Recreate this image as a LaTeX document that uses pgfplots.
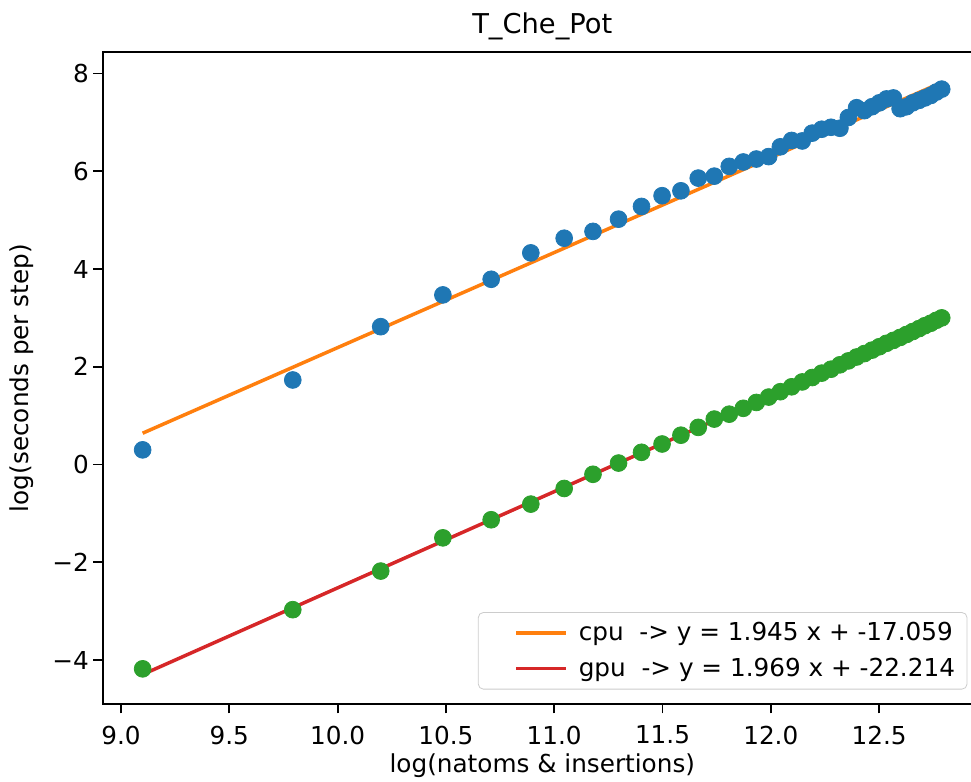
\documentclass[border=0pt]{standalone}
\usepackage{pgfplots}
\pgfplotsset{compat=1.18}
\usepackage{fontspec}
\setmainfont{DejaVu Sans}
\definecolor{mplblue}{HTML}{1F77B4}
\definecolor{mplorange}{HTML}{FF7F0E}
\definecolor{mplgreen}{HTML}{2CA02C}
\definecolor{mplred}{HTML}{D62728}
\begin{document}
\begin{tikzpicture}
\begin{axis}[
  name=ax,
  scale only axis,
  width=439.6bp, height=326bp,
  xmin=8.9155, xmax=12.9745,
  ymin=-4.90, ymax=8.44,
  axis line style={line width=0.9bp},
  tick style={line width=0.9bp, black},
  tick align=outside,
  major tick length=4.7bp,
  tick pos=left,
  xtick={9.0,9.5,10.0,10.5,11.0,11.5,12.0,12.5},
  xticklabels={9.0,9.5,10.0,10.5,11.0,11.5,12.0,12.5},
  ytick={-4,-2,0,2,4,6,8},
  yticklabels={−4,−2,0,2,4,6,8},
  ticklabel style={font=\fontsize{12.4}{15}\selectfont},
  xticklabel style={inner sep=0pt, anchor=north, yshift=-6bp},
  yticklabel style={inner sep=0pt, anchor=east, xshift=-2bp},
  title={T\_Che\_Pot},
  title style={font=\fontsize{13.7}{16}\selectfont, at={(axis description cs:0.5,1)}, anchor=south, inner sep=0pt, yshift=0bp},
  xlabel={log(natoms \& insertions)},
  ylabel={log(seconds per step)},
  label style={font=\fontsize{12.4}{15}\selectfont},
  xlabel style={at={(axis description cs:0.5,0)}, anchor=center, yshift=-31bp},
  ylabel style={at={(axis description cs:-0.0918,0.5)}, anchor=center},
  legend cell align=left,
  legend style={at={(axis description cs:1,0)}, anchor=south east, xshift=-7.25bp, yshift=7.25bp,
    draw=black!20, rounded corners=2.5bp, fill=white, fill opacity=0.8, text opacity=1,
    font=\fontsize{12.4}{15}\selectfont, inner xsep=4bp, inner ysep=3bp, row sep=3bp},
  legend image code/.code={\path (-14bp,0bp) (28.5bp,0bp); \draw[mark=none,#1] (0bp,0bp) -- (25bp,0bp);},
]
% cpu scatter
\addplot[only marks, mark=*, mark size=4.2bp, mplblue, mark options={draw=mplblue, fill=mplblue}, forget plot] table {
x y
9.100 0.30
9.793 1.73
10.199 2.82
10.486 3.47
10.709 3.79
10.892 4.33
11.046 4.63
11.179 4.77
11.297 5.02
11.403 5.28
11.498 5.50
11.585 5.60
11.665 5.86
11.739 5.90
11.808 6.10
11.873 6.19
11.933 6.25
11.990 6.30
12.044 6.50
12.096 6.63
12.145 6.62
12.191 6.78
12.235 6.86
12.278 6.90
12.319 6.88
12.358 7.10
12.396 7.30
12.432 7.24
12.467 7.32
12.501 7.40
12.534 7.48
12.566 7.50
12.597 7.28
12.626 7.32
12.655 7.40
12.684 7.45
12.711 7.50
12.738 7.55
12.764 7.62
12.789 7.68
};
% cpu fit
\addplot[mplorange, line width=1.75bp, no marks] coordinates {(9.100,0.641) (12.789,7.816)};
\addlegendentry{cpu~~-> y = 1.945 x + -17.059}
% gpu scatter
\addplot[only marks, mark=*, mark size=4.2bp, mplgreen, mark options={draw=mplgreen, fill=mplgreen}, forget plot] table {
x y
9.100 -4.18
9.793 -2.97
10.199 -2.18
10.486 -1.50
10.709 -1.13
10.892 -0.81
11.046 -0.49
11.179 -0.20
11.297 0.03
11.403 0.25
11.498 0.42
11.585 0.60
11.665 0.76
11.739 0.93
11.808 1.03
11.873 1.15
11.933 1.27
11.990 1.38
12.044 1.49
12.096 1.59
12.145 1.69
12.191 1.78
12.235 1.87
12.278 1.95
12.319 2.04
12.358 2.12
12.396 2.20
12.432 2.27
12.467 2.34
12.501 2.41
12.534 2.48
12.566 2.54
12.597 2.60
12.626 2.66
12.655 2.72
12.684 2.78
12.711 2.84
12.738 2.89
12.764 2.95
12.789 3.00
};
% gpu fit
\addplot[mplred, line width=1.75bp, no marks] coordinates {(9.100,-4.296) (12.789,2.968)};
\addlegendentry{gpu~~-> y = 1.969 x + -22.214}
\end{axis}
\pgfresetboundingbox
\path[use as bounding box] ([xshift=-51.35bp,yshift=-38.5bp]ax.south west) rectangle ([xshift=-5.45bp,yshift=26bp]ax.north east);
\end{tikzpicture}
\end{document}
